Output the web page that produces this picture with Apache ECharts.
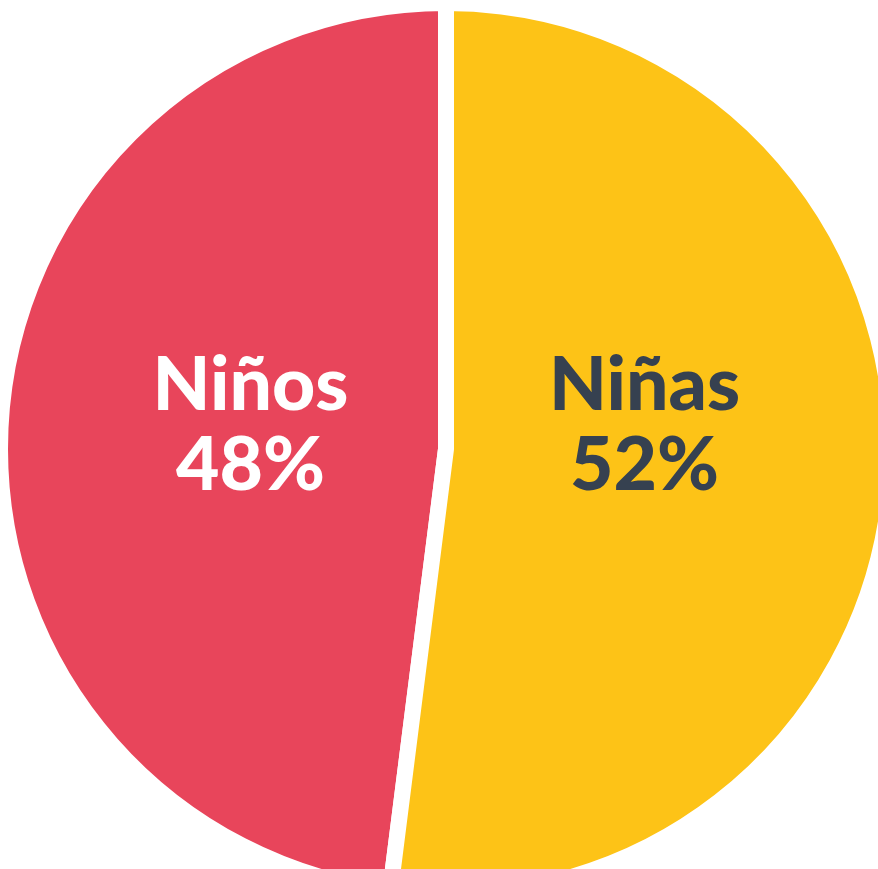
<!DOCTYPE html>
<html>
<head>
<meta charset="utf-8">
<script src="https://cdn.jsdelivr.net/npm/echarts@6/dist/echarts.min.js"></script>
<style>
html,body{margin:0;padding:0;background:#ffffff;}
#chart{width:878px;height:869px;}
</style>
</head>
<body>
<div id="chart"></div>
<script>
var categories = ["Niños", "Niñas"];
var values = [48, 52];
var sliceColors = ["#E8455B", "#FDC317"];
var labelColors = ["#ffffff", "#364150"];
var labelShift = [[30, -9], [-27, -37]];

var chart = echarts.init(document.getElementById('chart'));
var data = categories.map(function (c, i) {
  return {
    name: c,
    value: values[i],
    itemStyle: { color: sliceColors[i] },
    label: { color: labelColors[i] }
  };
});
chart.setOption({
  backgroundColor: '#ffffff',
  animation: false,
  series: [{
    type: 'pie',
    center: [446, 449],
    radius: [0, 446],
    startAngle: 90,
    clockwise: false,
    data: data,
    itemStyle: { borderColor: '#ffffff', borderWidth: 16 },
    label: {
      show: true,
      position: 'inner',
      formatter: '{b}\n{c}%',
      fontFamily: 'Lato',
      fontWeight: 900,
      fontSize: 75,
      lineHeight: 80,
      align: 'center'
    },
    labelLayout: function (p) {
      var s = labelShift[p.dataIndex];
      return { dx: s[0], dy: s[1] };
    },
    labelLine: { show: false },
    emphasis: { disabled: true }
  }]
});
</script>
</body>
</html>
